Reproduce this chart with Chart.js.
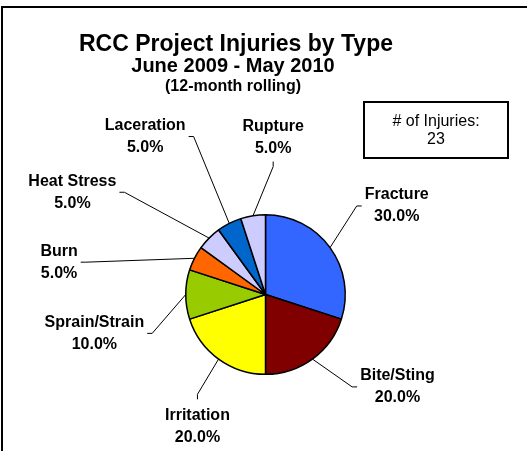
<!DOCTYPE html>
<html>
<head>
<meta charset="utf-8">
<script src="https://cdn.jsdelivr.net/npm/chart.js@4"></script>
<style>
  html, body { margin: 0; padding: 0; background: #fff; }
</style>
</head>
<body>
<canvas id="injuryChart" width="527" height="451"></canvas>
<script>
    // chart data
    var injuryTypes = ['Fracture', 'Bite/Sting', 'Irritation', 'Sprain/Strain', 'Burn', 'Heat Stress', 'Laceration', 'Rupture'];
    var injuryPercents = [30, 20, 20, 10, 5, 5, 5, 5];
    var injuryCount = 23;
    var titleLines = ['RCC Project Injuries by Type', 'June 2009 - May 2010', '(12-month rolling)'];

    var sliceColors = ['#3366FF', '#800000', '#FFFF00', '#99CC00', '#FF6600', '#CCCCFF', '#0066CC', '#CCCCFF'];

    // where each data label sits: [angle clockwise from 12 o'clock, distance in pie radii]
    var labelPlacement = [[56, 1.985], [125, 2.02], [207.3, 1.86], [257.2, 2.2], [278.9, 2.62], [297.9, 2.74], [322.7, 2.49], [2.8, 1.97]];

    var fontFamily = '"Liberation Sans", Arial, sans-serif';

    var decorPlugin = {
        id: 'decor',
        afterDraw: function (chart) {
            var ctx = chart.ctx;
            var meta = chart.getDatasetMeta(0);
            var total = injuryPercents.reduce(function (a, b) { return a + b; }, 0);
            ctx.save();

            // outer frame (top and left edges only)
            ctx.strokeStyle = '#000';
            ctx.lineWidth = 2;
            ctx.beginPath();
            ctx.moveTo(527, 7);
            ctx.lineTo(2, 7);
            ctx.lineTo(2, 451);
            ctx.stroke();

            // titles
            ctx.fillStyle = '#000';
            ctx.textAlign = 'center';
            ctx.textBaseline = 'middle';
            ctx.font = 'bold 23px ' + fontFamily;
            ctx.fillText(titleLines[0], 236, 45);
            ctx.font = 'bold 20px ' + fontFamily;
            ctx.fillText(titleLines[1], 233, 66);
            ctx.font = 'bold 16px ' + fontFamily;
            ctx.fillText(titleLines[2], 233, 87);

            // count box
            ctx.lineWidth = 2;
            ctx.strokeRect(364, 102, 144, 56);
            ctx.font = '16px ' + fontFamily;
            ctx.fillText('# of Injuries:', 436, 122);
            ctx.fillText(String(injuryCount), 436, 140);

            // data labels with leader lines
            ctx.font = 'bold 16px ' + fontFamily;
            ctx.lineWidth = 1;
            meta.data.forEach(function (arc, i) {
                var cx = arc.x, cy = arc.y, r = arc.outerRadius;
                var mid = (arc.startAngle + arc.endAngle) / 2;
                var ax = cx + r * Math.cos(mid), ay = cy + r * Math.sin(mid);
                var p = labelPlacement[i];
                var a = (p[0] - 90) * Math.PI / 180;
                var lx = cx + p[1] * r * Math.cos(a), ly = cy + p[1] * r * Math.sin(a);
                var pct = (injuryPercents[i] / total * 100).toFixed(1) + '%';
                var w = Math.max(ctx.measureText(injuryTypes[i]).width, ctx.measureText(pct).width);
                var dx = lx - cx, dy = ly - cy;
                var ex, ey, kx, ky;
                if (Math.abs(dx) > Math.abs(dy) * 0.6) {
                    ey = ky = ly;
                    if (dx > 0) { ex = lx - w / 2 - 3; kx = ex - 5; }
                    else { ex = lx + w / 2 + 3; kx = ex + 5; }
                } else {
                    ex = kx = lx;
                    if (dy > 0) { ey = ly - 19 - 8; ky = ey - 5; }
                    else { ey = ly + 19 + 5; ky = ey + 5; }
                }
                ctx.beginPath();
                ctx.moveTo(ax, ay);
                ctx.lineTo(kx, ky);
                ctx.lineTo(ex, ey);
                ctx.stroke();
                ctx.fillText(injuryTypes[i], lx, ly - 11);
                ctx.fillText(pct, lx, ly + 11);
            });
            ctx.restore();
        }
    };

    var ctx = document.getElementById('injuryChart').getContext('2d');

    var injuryChart = new Chart(ctx, {
        type: 'pie',
        data: {
            labels: injuryTypes,
            datasets: [{
                data: injuryPercents,
                backgroundColor: sliceColors,
                borderColor: '#000',
                borderWidth: 1.5
            }]
        },
        options: {
            responsive: false,
            animation: false,
            layout: { padding: { left: 185, right: 181, top: 214, bottom: 76 } },
            plugins: {
                legend: { display: false },
                tooltip: { enabled: false },
                title: { display: false }
            }
        },
        plugins: [decorPlugin]
    });
</script>
</body>
</html>
